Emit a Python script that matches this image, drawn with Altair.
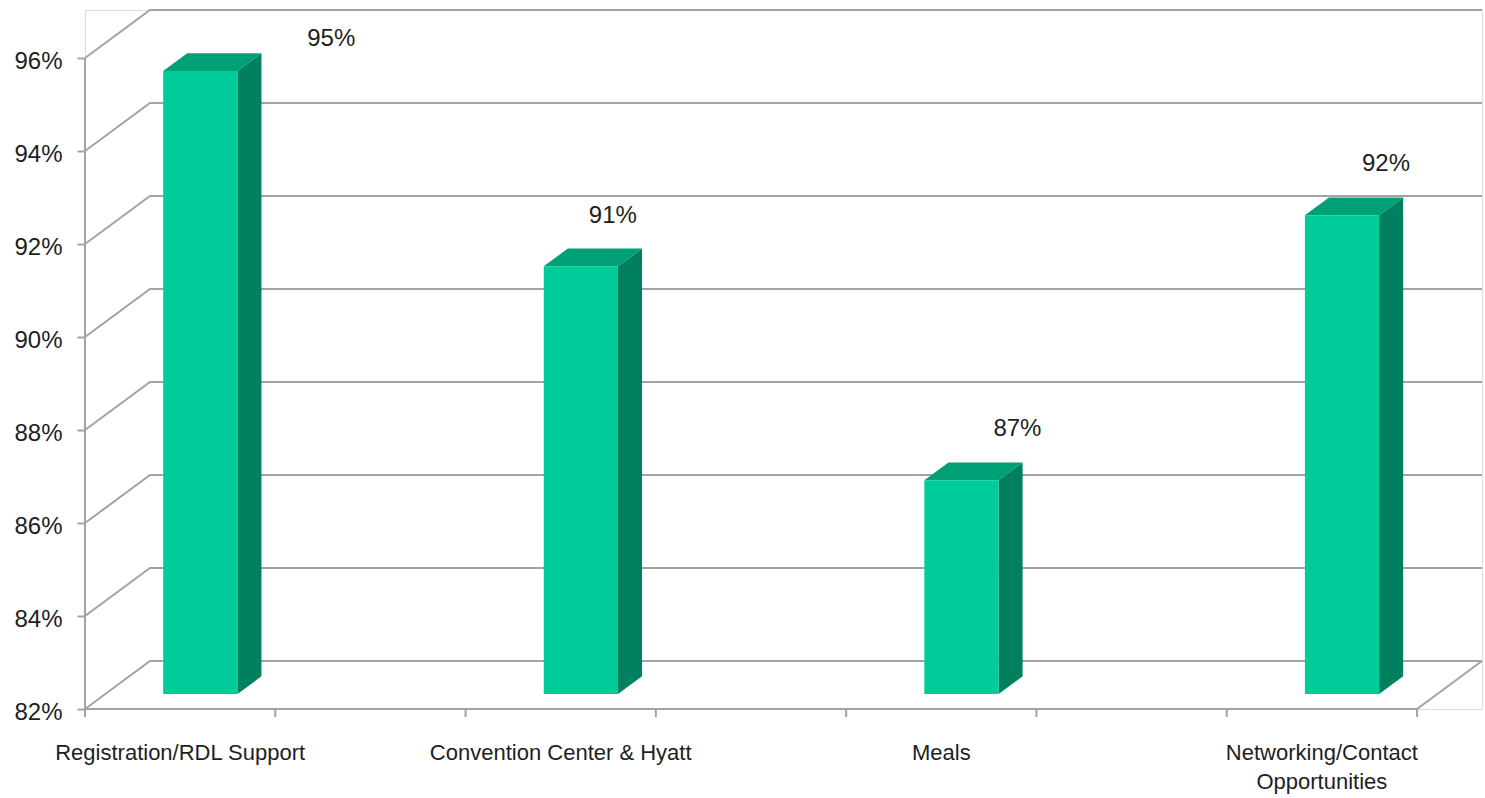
import altair as alt
import pandas as pd

# ---- data -----------------------------------------------------------------
categories = [
    "Registration/RDL Support",
    "Convention Center & Hyatt",
    "Meals",
    "Networking/Contact\nOpportunities",
]
scores = [0.954, 0.912, 0.866, 0.923]
y_ticks = [0.82, 0.84, 0.86, 0.88, 0.90, 0.92, 0.94, 0.96]
# pixel nudges (right, up) of each value label from the top of its bar
label_shift = [(131, 32), (32, 50), (56, 51), (44, 51)]

# ---- geometry of the pseudo-3D box ----------------------------------------
N_SLOTS = 7                      # category axis runs 0..7, bars sit in slots 0,2,4,6
UNIT_PX = 1332 / N_SLOTS         # pixels per x unit
PCT_PX = 651 / 0.14              # pixels per 1.0 of the y scale
BASE, TOP = 0.82, 0.96
DEPTH_X = 65 / UNIT_PX           # receding depth, x component (data units)
DEPTH_Y = 48 / PCT_PX            # receding depth, y component (data units)
X_MAX = N_SLOTS + DEPTH_X
Y_MAX = TOP + DEPTH_Y
WIDTH = round(X_MAX * UNIT_PX)
HEIGHT = round((Y_MAX - BASE) * PCT_PX)

BAR_HALF = 0.195                 # half bar width, x units
BAR_FRONT = 0.31                 # depth fraction of bar front face
BAR_DEPTH = 0.37                 # depth fraction occupied by the bar

FRONT_COLOR = "#00CC99"
TOP_COLOR = "#00A077"
SIDE_COLOR = "#00805E"
LINE_COLOR = "#A3A3A3"
TEXT_COLOR = "#1E1E1E"
FONT = "Liberation Sans"

xs = alt.Scale(domain=[0, X_MAX], nice=False, zero=False)
ys = alt.Scale(domain=[BASE, Y_MAX], nice=False, zero=False)

# the percentage axis, shared by every layer so the merged axis is identical
Y_AXIS = alt.Axis(
    values=y_ticks,
    format=".0%",
    title=None,
    domain=False,
    grid=False,
    ticks=True,
    tickSize=8,
    tickWidth=2,
    tickColor=LINE_COLOR,
    labelFont=FONT,
    labelFontSize=24,
    labelColor=TEXT_COLOR,
    labelPadding=15,
    labelBaseline="middle",
    labelOffset=3,
)


def X(field):
    return alt.X(field, scale=xs, axis=None)


def Y(field):
    return alt.Y(field, scale=ys, axis=Y_AXIS)


# ---- walls, floor and front axis lines --------------------------------------
wall_rows = []
for i, v in enumerate(y_ticks):
    pts = [(0, v), (DEPTH_X, v + DEPTH_Y), (N_SLOTS + DEPTH_X, v + DEPTH_Y)]
    for k, (x, y) in enumerate(pts):
        wall_rows.append({"line": f"grid{i}", "k": k, "x": x, "y": y})
floor_pts = [(0, BASE), (N_SLOTS, BASE), (N_SLOTS + DEPTH_X, BASE + DEPTH_Y)]
for k, (x, y) in enumerate(floor_pts):
    wall_rows.append({"line": "floor", "k": k, "x": x, "y": y})
for k, (x, y) in enumerate([(0, BASE), (0, TOP)]):
    wall_rows.append({"line": "axis", "k": k, "x": x, "y": y})
walls = pd.DataFrame(wall_rows)

wall_layer = alt.Chart(walls).mark_line(color=LINE_COLOR, strokeWidth=2).encode(
    x=X("x:Q"),
    y=Y("y:Q"),
    detail="line:N",
    order="k:O",
)

# tick marks under the floor edge
tick_len = 8 / PCT_PX
xticks = pd.DataFrame({"x": list(range(N_SLOTS + 1))})
xticks["y"] = BASE
xticks["y2"] = BASE - tick_len
xtick_layer = alt.Chart(xticks).mark_rule(color=LINE_COLOR, strokeWidth=2).encode(
    x=X("x:Q"),
    y=Y("y:Q"),
    y2="y2:Q",
)

# ---- bars --------------------------------------------------------------------
fx, fy = BAR_FRONT * DEPTH_X, BAR_FRONT * DEPTH_Y
bx, by = BAR_DEPTH * DEPTH_X, BAR_DEPTH * DEPTH_Y

front_rows, top_rows, side_rows, label_rows, cat_rows = [], [], [], [], []
for i, (cat, v) in enumerate(zip(categories, scores)):
    c = 2 * i + 0.5
    x0, x1 = c - BAR_HALF + fx, c + BAR_HALF + fx
    base, val = BASE + fy, v + fy
    front_rows.append({"bar": cat, "x0": x0, "x1": x1, "y0": base, "y1": val})
    for x, lo, hi in [
        (x0, val, val),
        (x0 + bx, val, val + by),
        (x1, val, val + by),
        (x1 + bx, val + by, val + by),
    ]:
        top_rows.append({"bar": cat, "x": x, "lo": lo, "hi": hi})
    for x, lo, hi in [(x1, base, val), (x1 + bx, base + by, val + by)]:
        side_rows.append({"bar": cat, "x": x, "lo": lo, "hi": hi})
    sx, sy = label_shift[i]
    label_rows.append({
        "score": v,
        "x": c + fx + sx / UNIT_PX,
        "y": val + sy / PCT_PX,
    })
    cat_rows.append({"name": cat, "x": c, "y": BASE})

front_layer = alt.Chart(pd.DataFrame(front_rows)).mark_rect(color=FRONT_COLOR).encode(
    x=X("x0:Q"),
    x2="x1:Q",
    y=Y("y0:Q"),
    y2="y1:Q",
)
top_layer = alt.Chart(pd.DataFrame(top_rows)).mark_area(
    color=TOP_COLOR, orient="vertical", interpolate="linear"
).encode(
    x=X("x:Q"),
    y=Y("lo:Q"),
    y2="hi:Q",
    detail="bar:N",
)
side_layer = alt.Chart(pd.DataFrame(side_rows)).mark_area(
    color=SIDE_COLOR, orient="vertical", interpolate="linear"
).encode(
    x=X("x:Q"),
    y=Y("lo:Q"),
    y2="hi:Q",
    detail="bar:N",
)

# ---- text ---------------------------------------------------------------------
value_labels = alt.Chart(pd.DataFrame(label_rows)).mark_text(
    font=FONT, fontSize=24, color=TEXT_COLOR, align="center", baseline="middle"
).encode(
    x=X("x:Q"),
    y=Y("y:Q"),
    text=alt.Text("score:Q", format=".0%"),
)

cat_labels = alt.Chart(pd.DataFrame(cat_rows)).mark_text(
    font=FONT, fontSize=22, color=TEXT_COLOR, align="center",
    baseline="alphabetic", dy=51, lineBreak="\n", lineHeight=29,
).encode(
    x=X("x:Q"),
    y=Y("y:Q"),
    text="name:N",
)

chart = alt.layer(
    wall_layer,
    xtick_layer,
    side_layer,
    top_layer,
    front_layer,
    value_labels,
    cat_labels,
).properties(
    width=WIDTH,
    height=HEIGHT,
    autosize=alt.AutoSizeParams(type="none"),
    padding={"left": 85, "top": 10, "right": 1485 - 85 - WIDTH, "bottom": 798 - 10 - HEIGHT},
).configure_view(stroke=None).configure(background="white")

chart.save("out.html", embed_options={"renderer": "svg", "actions": False})
